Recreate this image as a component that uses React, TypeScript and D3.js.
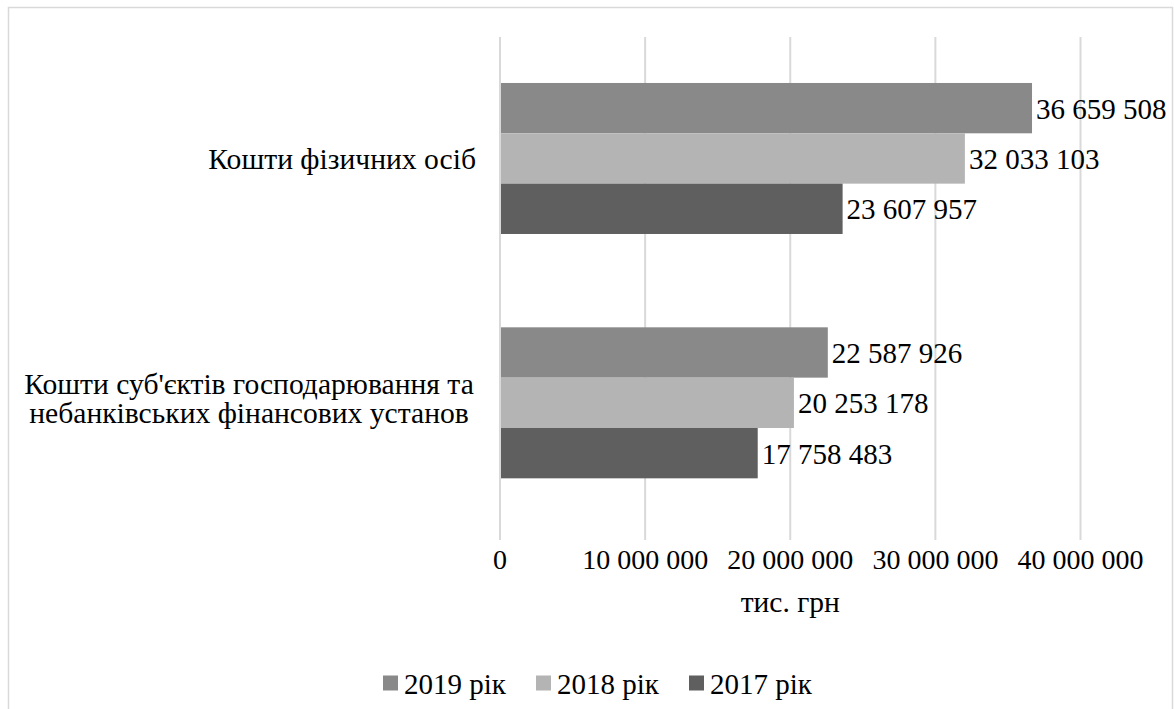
import React from "react";
import * as d3 from "d3";

// Deposits by holder type, thousand UAH
const categories = [
  "Кошти фізичних осіб",
  "Кошти суб'єктів господарювання та небанківських фінансових установ",
];
const categoryLines = [
  ["Кошти фізичних осіб"],
  ["Кошти суб'єктів господарювання та", "небанківських фінансових установ"],
];
const seriesNames = ["2019 рік", "2018 рік", "2017 рік"];
const seriesColors = ["#898989", "#b4b4b4", "#5f5f5f"];
const values2019 = [36659508, 22587926];
const values2018 = [32033103, 20253178];
const values2017 = [23607957, 17758483];
const xTicks = [0, 10000000, 20000000, 30000000, 40000000];
const axisTitle = "тис. грн";

const W = 1174;
const H = 709;
const FONT = "Liberation Serif, Tinos, Times New Roman, DejaVu Serif, serif";

const locale = d3.formatLocale({
  decimal: ",",
  thousands: " ",
  grouping: [3],
  currency: ["", " грн"],
});
const fmt = locale.format(",d");

export default function App() {
  const series = [values2019, values2018, values2017];

  const plotTop = 37;
  const plotBottom = 540;
  const x = d3.scaleLinear().domain([0, 40000000]).range([500, 1080.5]);

  const y = d3
    .scaleBand<string>()
    .domain(categories)
    .range([36.3, 525])
    .paddingInner(0.382)
    .paddingOuter(0.191);

  const yInner = d3
    .scaleBand<string>()
    .domain(seriesNames)
    .range([0, y.bandwidth()]);

  const legendX0 = 383;
  const legendStep = 153;

  return (
    <svg
      width={W}
      height={H}
      style={{ position: "absolute", left: 0, top: 0, background: "#fff", fontFamily: FONT }}
    >
      <rect x={0} y={0} width={W} height={H} fill="#fff" />
      {/* chart frame */}
      <rect
        x={8.5}
        y={7.5}
        width={1164}
        height={720}
        fill="none"
        stroke="#d9d9d9"
        strokeWidth={1.5}
      />

      {/* vertical gridlines */}
      {xTicks.map((t) => (
        <line
          key={"g" + t}
          x1={x(t)}
          x2={x(t)}
          y1={plotTop}
          y2={plotBottom}
          stroke="#d9d9d9"
          strokeWidth={2}
        />
      ))}

      {/* bars */}
      {categories.map((c, ci) => (
        <g key={c} transform={`translate(0,${y(c)})`}>
          {seriesNames.map((s, si) => {
            const v = series[si][ci];
            const y0 = yInner(s) as number;
            const bh = yInner.bandwidth();
            return (
              <g key={s}>
                <rect
                  x={x(0) + 1}
                  y={y0}
                  width={x(v) - x(0) - 1}
                  height={bh}
                  fill={seriesColors[si]}
                />
                <text
                  x={x(v) + 4}
                  y={y0 + bh / 2}
                  dy="0.36em"
                  fontSize={29}
                  fill="#000"
                >
                  {fmt(v)}
                </text>
              </g>
            );
          })}
        </g>
      ))}

      {/* category labels */}
      {categories.map((c, ci) => {
        const lines = categoryLines[ci];
        const cy = (y(c) as number) + y.bandwidth() / 2;
        const lh = 29;
        const multi = lines.length > 1;
        return (
          <text
            key={"c" + c}
            fontSize={29.6}
            fill="#000"
            textAnchor={multi ? "middle" : "end"}
          >
            {lines.map((ln, li) => (
              <tspan
                key={li}
                x={multi ? 249 : 476}
                y={cy + (li - (lines.length - 1) / 2) * lh - (multi ? 4 : 0)}
                dy="0.34em"
              >
                {ln}
              </tspan>
            ))}
          </text>
        );
      })}

      {/* x tick labels */}
      {xTicks.map((t) => (
        <text
          key={"t" + t}
          x={x(t)}
          y={569}
          textAnchor="middle"
          fontSize={28}
          fill="#000"
        >
          {fmt(t)}
        </text>
      ))}

      {/* axis title */}
      <text
        x={(x(0) + x(40000000)) / 2}
        y={612}
        textAnchor="middle"
        fontSize={29.5}
        fill="#000"
      >
        {axisTitle}
      </text>

      {/* legend */}
      {seriesNames.map((s, si) => (
        <g key={"l" + s} transform={`translate(${legendX0 + si * legendStep},0)`}>
          <rect x={0} y={675.5} width={15} height={15} fill={seriesColors[si]} />
          <text x={21} y={693.5} fontSize={29} fill="#000">
            {s}
          </text>
        </g>
      ))}
    </svg>
  );
}
